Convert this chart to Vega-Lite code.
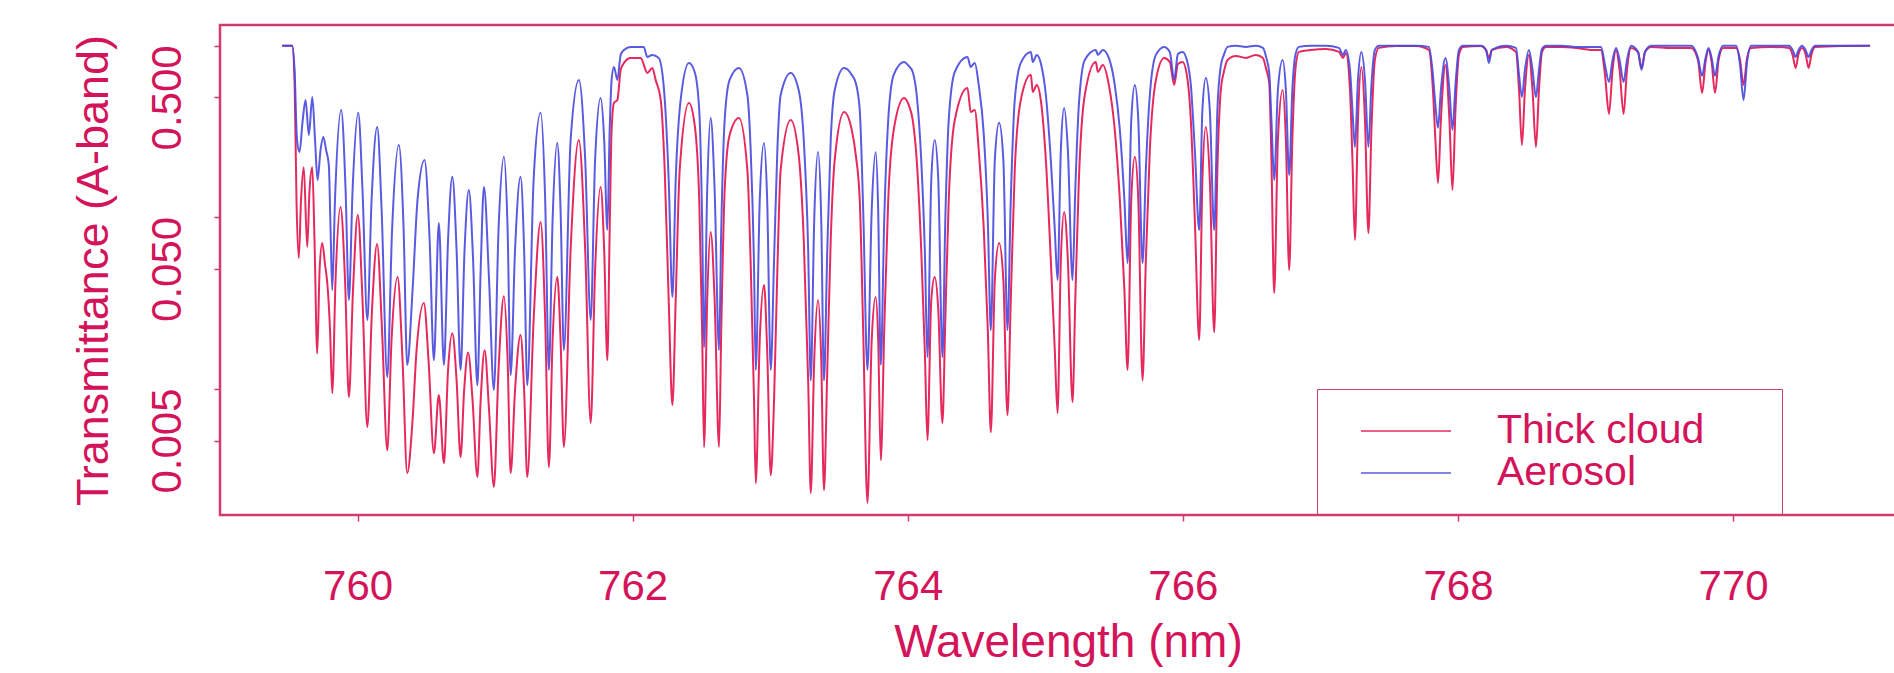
{
"$schema": "https://vega.github.io/schema/vega-lite/v6.json",
"width": 1696, "height": 490,
"autosize": {"type": "none"},
"padding": {"left": 220, "top": 25, "right": -22, "bottom": 158},
"background": "#ffffff",
"datasets": {
"thick": [
{"nm":759.452,"T":1},{"nm":759.525,"T":1},{"nm":759.542,"T":0.632},{"nm":759.556,"T":0.1262},{"nm":759.573,"T":0.0579},{"nm":759.589,"T":0.1262},{"nm":759.609,"T":0.196},{"nm":759.634,"T":0.0671},{"nm":759.651,"T":0.1443},{"nm":759.671,"T":0.196},{"nm":759.687,"T":0.0737},{"nm":759.707,"T":0.0161},{"nm":759.724,"T":0.0493},{"nm":759.743,"T":0.0708},{"nm":759.764,"T":0.0527},{"nm":759.78,"T":0.0414},{"nm":759.8,"T":0.022},{"nm":759.816,"T":0.00945},{"nm":759.84,"T":0.0431},{"nm":759.876,"T":0.1148},{"nm":759.909,"T":0.0431},{"nm":759.937,"T":0.00896},{"nm":759.967,"T":0.0377},{"nm":760.002,"T":0.1031},{"nm":760.036,"T":0.033},{"nm":760.071,"T":0.00599},{"nm":760.105,"T":0.0288},{"nm":760.142,"T":0.0699},{"nm":760.178,"T":0.022},{"nm":760.216,"T":0.00439},{"nm":760.247,"T":0.0192},{"nm":760.291,"T":0.0449},{"nm":760.327,"T":0.0147},{"nm":760.361,"T":0.00323},{"nm":760.4,"T":0.00658},{"nm":760.429,"T":0.0168},{"nm":760.482,"T":0.0317},{"nm":760.516,"T":0.0147},{"nm":760.555,"T":0.00422},{"nm":760.591,"T":0.0092},{"nm":760.628,"T":0.00369},{"nm":760.658,"T":0.0129},{"nm":760.689,"T":0.0211},{"nm":760.72,"T":0.0112},{"nm":760.749,"T":0.004},{"nm":760.775,"T":0.00984},{"nm":760.804,"T":0.0163},{"nm":760.836,"T":0.0086},{"nm":760.871,"T":0.00306},{"nm":760.895,"T":0.0086},{"nm":760.924,"T":0.0168},{"nm":760.956,"T":0.00752},{"nm":760.991,"T":0.00268},{"nm":761.025,"T":0.0129},{"nm":761.064,"T":0.0347},{"nm":761.091,"T":0.0147},{"nm":761.113,"T":0.00323},{"nm":761.145,"T":0.00984},{"nm":761.185,"T":0.0206},{"nm":761.211,"T":0.00984},{"nm":761.234,"T":0.00306},{"nm":761.28,"T":0.0252},{"nm":761.331,"T":0.094},{"nm":761.364,"T":0.0252},{"nm":761.391,"T":0.0035},{"nm":761.418,"T":0.0192},{"nm":761.452,"T":0.0449},{"nm":761.476,"T":0.0192},{"nm":761.5,"T":0.00458},{"nm":761.549,"T":0.0645},{"nm":761.609,"T":0.282},{"nm":761.655,"T":0.0645},{"nm":761.695,"T":0.00632},{"nm":761.727,"T":0.0493},{"nm":761.767,"T":0.1502},{"nm":761.793,"T":0.0645},{"nm":761.816,"T":0.0147},{"nm":761.833,"T":0.0843},{"nm":761.847,"T":0.323},{"nm":761.864,"T":0.464},{"nm":761.889,"T":0.483},{"nm":761.913,"T":0.723},{"nm":761.937,"T":0.794},{"nm":761.985,"T":0.849},{"nm":762.058,"T":0.849},{"nm":762.107,"T":0.694},{"nm":762.143,"T":0.742},{"nm":762.167,"T":0.632},{"nm":762.204,"T":0.483},{"nm":762.233,"T":0.189},{"nm":762.262,"T":0.033},{"nm":762.289,"T":0.00804},{"nm":762.313,"T":0.033},{"nm":762.342,"T":0.189},{"nm":762.409,"T":0.464},
{"nm":762.451,"T":0.345},{"nm":762.484,"T":0.1262},{"nm":762.505,"T":0.022},{"nm":762.519,"T":0.00458},{"nm":762.542,"T":0.033},{"nm":762.567,"T":0.0821},{"nm":762.596,"T":0.033},{"nm":762.628,"T":0.00458},{"nm":762.644,"T":0.022},{"nm":762.669,"T":0.1443},{"nm":762.705,"T":0.302},{"nm":762.773,"T":0.379},{"nm":762.834,"T":0.189},{"nm":762.858,"T":0.0541},{"nm":762.882,"T":0.00896},{"nm":762.895,"T":0.00282},{"nm":762.924,"T":0.0193},{"nm":762.955,"T":0.0403},{"nm":762.978,"T":0.0168},{"nm":763.004,"T":0.00314},{"nm":763.028,"T":0.0086},{"nm":763.052,"T":0.0493},{"nm":763.076,"T":0.189},{"nm":763.149,"T":0.369},{"nm":763.207,"T":0.231},{"nm":763.244,"T":0.0737},{"nm":763.276,"T":0.0112},{"nm":763.295,"T":0.00247},{"nm":763.32,"T":0.0147},{"nm":763.348,"T":0.033},{"nm":763.371,"T":0.0147},{"nm":763.391,"T":0.00257},{"nm":763.415,"T":0.0129},{"nm":763.44,"T":0.0737},{"nm":763.469,"T":0.216},{"nm":763.537,"T":0.411},{"nm":763.593,"T":0.323},{"nm":763.622,"T":0.231},{"nm":763.651,"T":0.1262},{"nm":763.676,"T":0.022},{"nm":763.707,"T":0.00216},{"nm":763.738,"T":0.0193},{"nm":763.767,"T":0.0343},{"nm":763.785,"T":0.0193},{"nm":763.804,"T":0.00384},{"nm":763.829,"T":0.022},{"nm":763.858,"T":0.1262},{"nm":763.898,"T":0.323},{"nm":763.973,"T":0.496},{"nm":764.007,"T":0.452},{"nm":764.036,"T":0.369},{"nm":764.065,"T":0.216},{"nm":764.098,"T":0.0645},{"nm":764.124,"T":0.0168},{"nm":764.143,"T":0.00503},{"nm":764.171,"T":0.033},{"nm":764.196,"T":0.0449},{"nm":764.222,"T":0.0288},{"nm":764.252,"T":0.00632},{"nm":764.273,"T":0.0252},{"nm":764.298,"T":0.1262},{"nm":764.342,"T":0.369},{"nm":764.434,"T":0.567},{"nm":764.458,"T":0.411},{"nm":764.487,"T":0.422},{"nm":764.516,"T":0.247},{"nm":764.553,"T":0.0843},{"nm":764.582,"T":0.022},{"nm":764.604,"T":0.00559},{"nm":764.633,"T":0.0431},{"nm":764.664,"T":0.0708},{"nm":764.695,"T":0.0431},{"nm":764.725,"T":0.00703},{"nm":764.749,"T":0.033},{"nm":764.778,"T":0.189},{"nm":764.822,"T":0.483},{"nm":764.895,"T":0.676},{"nm":764.909,"T":0.538},{"nm":764.938,"T":0.591},{"nm":764.967,"T":0.483},{"nm":765.004,"T":0.216},{"nm":765.04,"T":0.0564},{"nm":765.069,"T":0.0168},{"nm":765.089,"T":0.00722},{"nm":765.113,"T":0.0564},{"nm":765.137,"T":0.1074},{"nm":765.164,"T":0.0564},{"nm":765.198,"T":0.00837},{"nm":765.218,"T":0.033},{"nm":765.244,"T":0.165},{"nm":765.287,"T":0.516},{"nm":765.367,"T":0.804},{"nm":765.382,"T":0.703},{"nm":765.418,"T":0.773},{"nm":765.462,"T":0.591},{"nm":765.505,"T":0.323},{"nm":765.542,"T":0.1262},{"nm":765.575,"T":0.0377},{"nm":765.598,"T":0.0129},{"nm":765.625,"T":0.1262},{"nm":765.651,"T":0.225},{"nm":765.676,"T":0.1262},{"nm":765.707,"T":0.0112},{"nm":765.731,"T":0.0564},{"nm":765.76,"T":0.247},{"nm":765.804,"T":0.632},{"nm":765.864,"T":0.849},{"nm":765.905,"T":0.804},{"nm":765.937,"T":0.591},{"nm":765.964,"T":0.783},{"nm":765.998,"T":0.804},{"nm":766.029,"T":0.676},{"nm":766.058,"T":0.369},{"nm":766.087,"T":0.0965},{"nm":766.119,"T":0.0193},{"nm":766.142,"T":0.165},{"nm":766.167,"T":0.336},{"nm":766.196,"T":0.165},{"nm":766.228,"T":0.0214},{"nm":766.251,"T":0.189},{"nm":766.276,"T":0.552},{"nm":766.298,"T":0.703},{"nm":766.325,"T":0.826},{"nm":766.385,"T":0.872},{"nm":766.458,"T":0.849},{"nm":766.531,"T":0.884},{"nm":766.582,"T":0.849},{"nm":766.607,"T":0.723},{"nm":766.628,"T":0.607},{"nm":766.644,"T":0.216},{"nm":766.664,"T":0.0362},{"nm":766.691,"T":0.282},{"nm":766.725,"T":0.552},{"nm":766.749,"T":0.282},{"nm":766.773,"T":0.0493},{"nm":766.796,"T":0.282},{"nm":766.818,"T":0.723},{"nm":766.844,"T":0.92},{"nm":766.931,"T":0.945},{"nm":767.04,"T":0.958},{"nm":767.135,"T":0.92},{"nm":767.164,"T":0.849},{"nm":767.185,"T":0.908},{"nm":767.215,"T":0.552},{"nm":767.233,"T":0.216},{"nm":767.251,"T":0.0737},{"nm":767.273,"T":0.369},{"nm":767.298,"T":0.752},{"nm":767.324,"T":0.369},{"nm":767.349,"T":0.081},{"nm":767.371,"T":0.323},{"nm":767.396,"T":0.826},{"nm":767.425,"T":0.971},{"nm":767.549,"T":0.997},{"nm":767.695,"T":0.997},{"nm":767.789,"T":0.945},{"nm":767.818,"T":0.552},{"nm":767.836,"T":0.282},{"nm":767.855,"T":0.1585},{"nm":767.876,"T":0.369},{"nm":767.909,"T":0.773},{"nm":767.938,"T":0.369},{"nm":767.96,"T":0.1443},{"nm":767.982,"T":0.422},{"nm":768.007,"T":0.884},{"nm":768.036,"T":0.984},{"nm":768.167,"T":0.997},{"nm":768.204,"T":0.945},{"nm":768.225,"T":0.849},{"nm":768.247,"T":0.945},{"nm":768.349,"T":0.984},{"nm":768.422,"T":0.92},{"nm":768.444,"T":0.552},{"nm":768.465,"T":0.264},{"nm":768.487,"T":0.552},{"nm":768.516,"T":0.884},{"nm":768.542,"T":0.552},{"nm":768.567,"T":0.257},{"nm":768.589,"T":0.552},{"nm":768.611,"T":0.92},{"nm":768.64,"T":0.984},{"nm":768.749,"T":0.984},{"nm":768.858,"T":0.971},{"nm":768.967,"T":0.945},{"nm":769.04,"T":0.945},{"nm":769.069,"T":0.676},{"nm":769.098,"T":0.4},{"nm":769.124,"T":0.723},{"nm":769.149,"T":0.945},{"nm":769.175,"T":0.723},{"nm":769.204,"T":0.4},{"nm":769.229,"T":0.723},{"nm":769.258,"T":0.971},{"nm":769.309,"T":0.92},{"nm":769.335,"T":0.742},{"nm":769.36,"T":0.92},{"nm":769.404,"T":0.984},{"nm":769.549,"T":0.971},{"nm":769.695,"T":0.971},{"nm":769.745,"T":0.826},{"nm":769.775,"T":0.531},{"nm":769.8,"T":0.804},{"nm":769.822,"T":0.945},{"nm":769.844,"T":0.804},{"nm":769.869,"T":0.531},{"nm":769.895,"T":0.826},{"nm":769.927,"T":0.971},{"nm":770.022,"T":0.971},{"nm":770.051,"T":0.826},{"nm":770.076,"T":0.591},{"nm":770.102,"T":0.849},{"nm":770.131,"T":0.971},{"nm":770.276,"T":0.984},{"nm":770.407,"T":0.971},{"nm":770.433,"T":0.884},{"nm":770.455,"T":0.742},{"nm":770.476,"T":0.896},{"nm":770.502,"T":0.971},{"nm":770.527,"T":0.896},{"nm":770.549,"T":0.742},{"nm":770.571,"T":0.896},{"nm":770.596,"T":0.984},{"nm":770.785,"T":0.997},{"nm":770.996,"T":1}
],
"aerosol": [
{"nm":759.452,"T":1},{"nm":759.525,"T":1},{"nm":759.542,"T":0.723},{"nm":759.56,"T":0.282},{"nm":759.578,"T":0.24},{"nm":759.6,"T":0.36},{"nm":759.622,"T":0.483},{"nm":759.646,"T":0.302},{"nm":759.671,"T":0.503},{"nm":759.691,"T":0.282},{"nm":759.709,"T":0.165},{"nm":759.731,"T":0.247},{"nm":759.751,"T":0.294},{"nm":759.771,"T":0.247},{"nm":759.791,"T":0.202},{"nm":759.804,"T":0.0843},{"nm":759.816,"T":0.0377},{"nm":759.836,"T":0.1262},{"nm":759.881,"T":0.422},{"nm":759.913,"T":0.1443},{"nm":759.937,"T":0.033},{"nm":759.964,"T":0.1443},{"nm":760.005,"T":0.406},{"nm":760.036,"T":0.1443},{"nm":760.071,"T":0.0252},{"nm":760.102,"T":0.1262},{"nm":760.143,"T":0.336},{"nm":760.175,"T":0.1103},{"nm":760.216,"T":0.0117},{"nm":760.251,"T":0.0843},{"nm":760.3,"T":0.264},{"nm":760.335,"T":0.0843},{"nm":760.361,"T":0.0138},{"nm":760.4,"T":0.0377},{"nm":760.436,"T":0.1262},{"nm":760.487,"T":0.216},{"nm":760.524,"T":0.0737},{"nm":760.555,"T":0.0147},{"nm":760.591,"T":0.0927},{"nm":760.628,"T":0.0138},{"nm":760.658,"T":0.0737},{"nm":760.689,"T":0.172},{"nm":760.72,"T":0.0645},{"nm":760.749,"T":0.0129},{"nm":760.778,"T":0.0645},{"nm":760.809,"T":0.1443},{"nm":760.84,"T":0.0564},{"nm":760.871,"T":0.0105},{"nm":760.895,"T":0.0493},{"nm":760.919,"T":0.1502},{"nm":760.956,"T":0.0431},{"nm":760.991,"T":0.00984},{"nm":761.025,"T":0.0843},{"nm":761.064,"T":0.225},{"nm":761.091,"T":0.0843},{"nm":761.113,"T":0.012},{"nm":761.145,"T":0.0645},{"nm":761.185,"T":0.172},{"nm":761.211,"T":0.0645},{"nm":761.234,"T":0.0105},{"nm":761.28,"T":0.165},{"nm":761.331,"T":0.406},{"nm":761.364,"T":0.1262},{"nm":761.391,"T":0.0129},{"nm":761.418,"T":0.0965},{"nm":761.452,"T":0.271},{"nm":761.476,"T":0.1103},{"nm":761.5,"T":0.0168},{"nm":761.549,"T":0.282},{"nm":761.609,"T":0.632},{"nm":761.655,"T":0.216},{"nm":761.695,"T":0.0252},{"nm":761.727,"T":0.216},{"nm":761.767,"T":0.496},{"nm":761.793,"T":0.282},{"nm":761.816,"T":0.0843},{"nm":761.833,"T":0.323},{"nm":761.847,"T":0.632},{"nm":761.864,"T":0.752},{"nm":761.889,"T":0.632},{"nm":761.913,"T":0.884},{"nm":761.937,"T":0.945},{"nm":761.985,"T":0.984},{"nm":762.08,"T":0.984},{"nm":762.107,"T":0.86},{"nm":762.143,"T":0.884},{"nm":762.189,"T":0.849},{"nm":762.225,"T":0.591},{"nm":762.262,"T":0.165},{"nm":762.289,"T":0.0343},{"nm":762.313,"T":0.165},{"nm":762.349,"T":0.483},{"nm":762.409,"T":0.794},
{"nm":762.451,"T":0.703},{"nm":762.484,"T":0.422},{"nm":762.505,"T":0.0965},{"nm":762.519,"T":0.0175},{"nm":762.542,"T":0.1443},{"nm":762.567,"T":0.379},{"nm":762.596,"T":0.1443},{"nm":762.628,"T":0.0168},{"nm":762.644,"T":0.0843},{"nm":762.669,"T":0.369},{"nm":762.705,"T":0.632},{"nm":762.773,"T":0.742},{"nm":762.834,"T":0.516},{"nm":762.858,"T":0.247},{"nm":762.882,"T":0.0541},{"nm":762.895,"T":0.0129},{"nm":762.924,"T":0.1262},{"nm":762.955,"T":0.271},{"nm":762.978,"T":0.1262},{"nm":763.004,"T":0.0129},{"nm":763.028,"T":0.0564},{"nm":763.052,"T":0.247},{"nm":763.076,"T":0.516},{"nm":763.149,"T":0.694},{"nm":763.207,"T":0.552},{"nm":763.244,"T":0.282},{"nm":763.276,"T":0.0645},{"nm":763.295,"T":0.0112},{"nm":763.32,"T":0.0965},{"nm":763.348,"T":0.24},{"nm":763.371,"T":0.0965},{"nm":763.391,"T":0.0112},{"nm":763.415,"T":0.0645},{"nm":763.44,"T":0.282},{"nm":763.469,"T":0.552},{"nm":763.537,"T":0.742},{"nm":763.593,"T":0.676},{"nm":763.622,"T":0.607},{"nm":763.651,"T":0.422},{"nm":763.676,"T":0.1103},{"nm":763.707,"T":0.0129},{"nm":763.738,"T":0.1103},{"nm":763.767,"T":0.24},{"nm":763.785,"T":0.1103},{"nm":763.804,"T":0.0138},{"nm":763.829,"T":0.0965},{"nm":763.858,"T":0.369},{"nm":763.898,"T":0.676},{"nm":763.973,"T":0.804},{"nm":764.007,"T":0.762},{"nm":764.036,"T":0.703},{"nm":764.065,"T":0.516},{"nm":764.098,"T":0.216},{"nm":764.124,"T":0.0645},{"nm":764.143,"T":0.0153},{"nm":764.171,"T":0.165},{"nm":764.196,"T":0.282},{"nm":764.222,"T":0.165},{"nm":764.252,"T":0.0153},{"nm":764.273,"T":0.0965},{"nm":764.298,"T":0.369},{"nm":764.342,"T":0.703},{"nm":764.434,"T":0.86},{"nm":764.458,"T":0.752},{"nm":764.487,"T":0.794},{"nm":764.516,"T":0.591},{"nm":764.553,"T":0.302},{"nm":764.582,"T":0.0965},{"nm":764.604,"T":0.022},{"nm":764.633,"T":0.216},{"nm":764.664,"T":0.355},{"nm":764.695,"T":0.216},{"nm":764.725,"T":0.022},{"nm":764.749,"T":0.1262},{"nm":764.778,"T":0.483},{"nm":764.822,"T":0.794},{"nm":764.895,"T":0.92},{"nm":764.909,"T":0.804},{"nm":764.938,"T":0.884},{"nm":764.967,"T":0.794},{"nm":765.004,"T":0.516},{"nm":765.04,"T":0.216},{"nm":765.069,"T":0.0843},{"nm":765.089,"T":0.0431},{"nm":765.113,"T":0.247},{"nm":765.137,"T":0.434},{"nm":765.164,"T":0.247},{"nm":765.198,"T":0.0431},{"nm":765.218,"T":0.1443},{"nm":765.244,"T":0.452},{"nm":765.287,"T":0.826},{"nm":765.367,"T":0.945},{"nm":765.382,"T":0.884},{"nm":765.418,"T":0.945},{"nm":765.462,"T":0.849},{"nm":765.505,"T":0.591},{"nm":765.542,"T":0.323},{"nm":765.575,"T":0.1262},{"nm":765.598,"T":0.0541},{"nm":765.625,"T":0.369},{"nm":765.651,"T":0.591},{"nm":765.676,"T":0.369},{"nm":765.707,"T":0.0541},{"nm":765.731,"T":0.189},{"nm":765.76,"T":0.516},{"nm":765.804,"T":0.884},{"nm":765.864,"T":0.984},{"nm":765.905,"T":0.92},{"nm":765.937,"T":0.632},{"nm":765.964,"T":0.896},{"nm":765.998,"T":0.92},{"nm":766.029,"T":0.826},{"nm":766.058,"T":0.591},{"nm":766.087,"T":0.247},{"nm":766.119,"T":0.0843},{"nm":766.142,"T":0.422},{"nm":766.167,"T":0.649},{"nm":766.196,"T":0.422},{"nm":766.228,"T":0.0843},{"nm":766.251,"T":0.422},{"nm":766.276,"T":0.762},{"nm":766.298,"T":0.884},{"nm":766.325,"T":0.984},{"nm":766.385,"T":1},{"nm":766.458,"T":0.984},{"nm":766.531,"T":1},{"nm":766.582,"T":0.971},{"nm":766.607,"T":0.849},{"nm":766.628,"T":0.694},{"nm":766.644,"T":0.369},{"nm":766.664,"T":0.165},{"nm":766.691,"T":0.552},{"nm":766.725,"T":0.826},{"nm":766.749,"T":0.552},{"nm":766.773,"T":0.176},{"nm":766.796,"T":0.552},{"nm":766.818,"T":0.884},{"nm":766.844,"T":0.984},{"nm":766.931,"T":1},{"nm":767.04,"T":1},{"nm":767.135,"T":0.971},{"nm":767.164,"T":0.884},{"nm":767.185,"T":0.945},{"nm":767.215,"T":0.723},{"nm":767.233,"T":0.422},{"nm":767.251,"T":0.257},{"nm":767.273,"T":0.632},{"nm":767.298,"T":0.92},{"nm":767.324,"T":0.632},{"nm":767.349,"T":0.257},{"nm":767.371,"T":0.591},{"nm":767.396,"T":0.945},{"nm":767.425,"T":1},{"nm":767.549,"T":1},{"nm":767.695,"T":1},{"nm":767.789,"T":0.984},{"nm":767.818,"T":0.676},{"nm":767.836,"T":0.452},{"nm":767.855,"T":0.332},{"nm":767.876,"T":0.552},{"nm":767.909,"T":0.849},{"nm":767.938,"T":0.552},{"nm":767.96,"T":0.323},{"nm":767.982,"T":0.591},{"nm":768.007,"T":0.945},{"nm":768.036,"T":1},{"nm":768.167,"T":1},{"nm":768.204,"T":0.945},{"nm":768.225,"T":0.794},{"nm":768.247,"T":0.945},{"nm":768.349,"T":1},{"nm":768.422,"T":0.971},{"nm":768.444,"T":0.676},{"nm":768.465,"T":0.503},{"nm":768.487,"T":0.723},{"nm":768.516,"T":0.945},{"nm":768.542,"T":0.723},{"nm":768.567,"T":0.503},{"nm":768.589,"T":0.723},{"nm":768.611,"T":0.958},{"nm":768.64,"T":1},{"nm":768.749,"T":1},{"nm":768.858,"T":0.984},{"nm":768.967,"T":0.984},{"nm":769.04,"T":0.984},{"nm":769.069,"T":0.773},{"nm":769.098,"T":0.615},{"nm":769.124,"T":0.826},{"nm":769.149,"T":0.971},{"nm":769.175,"T":0.826},{"nm":769.204,"T":0.615},{"nm":769.229,"T":0.826},{"nm":769.258,"T":1},{"nm":769.309,"T":0.92},{"nm":769.335,"T":0.723},{"nm":769.36,"T":0.92},{"nm":769.404,"T":1},{"nm":769.549,"T":1},{"nm":769.695,"T":1},{"nm":769.745,"T":0.849},{"nm":769.775,"T":0.667},{"nm":769.8,"T":0.849},{"nm":769.822,"T":0.971},{"nm":769.844,"T":0.849},{"nm":769.869,"T":0.667},{"nm":769.895,"T":0.872},{"nm":769.927,"T":1},{"nm":770.022,"T":1},{"nm":770.051,"T":0.773},{"nm":770.076,"T":0.483},{"nm":770.102,"T":0.804},{"nm":770.131,"T":1},{"nm":770.276,"T":1},{"nm":770.407,"T":1},{"nm":770.433,"T":0.945},{"nm":770.455,"T":0.86},{"nm":770.476,"T":0.945},{"nm":770.502,"T":1},{"nm":770.527,"T":0.945},{"nm":770.549,"T":0.86},{"nm":770.571,"T":0.945},{"nm":770.596,"T":1},{"nm":770.785,"T":1},{"nm":770.996,"T":1}
]
},
"encoding": {
"x": {"field": "nm", "type": "quantitative",
 "scale": {"domain": [759.0, 771.33], "nice": false, "zero": false},
 "axis": {"values": [760, 762, 764, 766, 768, 770], "title": "Wavelength (nm)", "grid": false, "domain": false,
  "ticks": true, "tickSize": 6, "tickWidth": 1.5, "tickColor": "#d33a70",
  "labelFontSize": 42, "labelColor": "#d4145a", "labelPadding": 65, "labelBaseline": "middle", "labelFlush": false, "labelOverlap": false,
  "titleFontSize": 46, "titleColor": "#d4145a", "titleFontWeight": "normal", "titleX": 848, "titleY": 127, "titleBaseline": "middle", "titleAlign": "center"}},
"y": {"field": "T", "type": "quantitative",
 "scale": {"type": "log", "domain": [0.00184, 1.32], "nice": false},
 "axis": {"values": [0.005, 0.01, 0.05, 0.1, 0.5, 1],
  "labelExpr": "(datum.value == 0.5 || datum.value == 0.05 || datum.value == 0.005) ? format(datum.value, '.3f') : ''",
  "title": "Transmittance (A-band)", "grid": false, "domain": false,
  "ticks": true, "tickSize": 6, "tickWidth": 1.5, "tickColor": "#d33a70",
  "labelFontSize": 42, "labelColor": "#d4145a", "labelAngle": -90, "labelAlign": "center", "labelBaseline": "middle", "labelPadding": 47, "labelOverlap": false, "labelFlush": false,
  "titleFontSize": 45, "titleColor": "#d4145a", "titleFontWeight": "normal", "titleAngle": -90, "titleX": -127, "titleY": 245, "titleAlign": "center", "titleBaseline": "middle"}}
},
"layer": [
{"data": {"name": "thick"},
 "mark": {"type": "line", "interpolate": "monotone", "strokeWidth": 2, "opacity": 0.9, "clip": true},
 "encoding": {"color": {"datum": "Thick cloud", "type": "nominal",
  "scale": {"domain": ["Thick cloud", "Aerosol"], "range": ["#e3124b", "#4848de"]},
  "legend": {"orient": "none", "legendX": 1097, "legendY": 364, "title": " ", "titleOrient": "right", "titleOpacity": 0, "titleFontSize": 44, "titlePadding": 57,
   "strokeColor": "#d33a70", "padding": 21,
   "labelFontSize": 41, "labelColor": "#d4145a", "labelLimit": 500, "labelOffset": 45,
   "symbolType": "stroke", "symbolSize": 8100, "symbolStrokeWidth": 1.5, "symbolOffset": 22, "symbolOpacity": 0.75,
   "clipHeight": 42, "rowPadding": 0}}}},
{"data": {"name": "aerosol"},
 "mark": {"type": "line", "interpolate": "monotone", "strokeWidth": 2, "opacity": 0.9, "clip": true},
 "encoding": {"color": {"datum": "Aerosol", "type": "nominal"}}}
],
"config": {
 "font": "Liberation Sans",
 "view": {"stroke": "#d33a70", "strokeWidth": 2.5}
}
}
